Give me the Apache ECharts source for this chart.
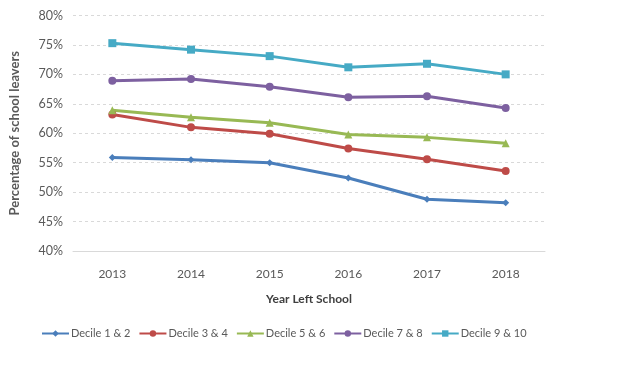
<!DOCTYPE html>
<html><head><meta charset="utf-8">
<script src="https://cdn.jsdelivr.net/npm/echarts@6/dist/echarts.min.js"></script>
<style>html,body{margin:0;padding:0;background:#fff}#c{width:625px;height:371px}</style>
</head><body><div id="c"></div>
<script>
const years = ['2013','2014','2015','2016','2017','2018'];
const decile12 = [55.9, 55.5, 55.0, 52.4, 48.8, 48.2];
const decile34 = [63.2, 61.0, 59.9, 57.4, 55.6, 53.6];
const decile56 = [63.9, 62.7, 61.8, 59.8, 59.3, 58.3];
const decile78 = [68.9, 69.2, 67.9, 66.1, 66.3, 64.3];
const decile910 = [75.3, 74.2, 73.1, 71.2, 71.8, 70.0];
const seriesNames = ['Decile 1 & 2','Decile 3 & 4','Decile 5 & 6','Decile 7 & 8','Decile 9 & 10'];
const colors = ['#4a7ebb','#be4b48','#98b954','#7d60a0','#46aac5'];
const symbols = ['diamond','circle','triangle','circle','rect'];
const symSizes = [7,8,8,8,8];
const dataSets = [decile12, decile34, decile56, decile78, decile910];
const FONT = 'Lato, "Liberation Sans", sans-serif';
const chart = echarts.init(document.getElementById('c'), null, {renderer:'canvas'});
chart.setOption({
  animation:false,
  textStyle:{fontFamily:FONT},
  grid:{left:71, right:80, top:15.5, bottom:120},
  legend:{
    data:seriesNames, left:36, top:323, itemWidth:27, itemHeight:8, itemGap:8,
    textStyle:{color:'#595959', fontSize:11, fontFamily:FONT, padding:[0,0,0,-3]}
  },
  xAxis:{
    type:'category', data:years, boundaryGap:true,
    name:'Year Left School', nameLocation:'middle', nameGap:42,
    nameTextStyle:{color:'#404040', fontWeight:'bold', fontSize:12, fontFamily:FONT},
    axisLine:{lineStyle:{color:'#d9d9d9'}}, axisTick:{show:false},
    axisLabel:{color:'#595959', fontSize:12, margin:17, fontFamily:FONT}
  },
  yAxis:{
    type:'value', min:40, max:80, interval:5,
    name:'Percentage of school leavers', nameLocation:'middle', nameGap:52,
    nameTextStyle:{color:'#595959', fontWeight:'bold', fontSize:13, fontFamily:FONT},
    axisLine:{show:false}, axisTick:{show:false},
    axisLabel:{color:'#595959', fontSize:12.5, margin:10, formatter:v=>v+'%', fontFamily:FONT},
    splitLine:{lineStyle:{color:'#d9d9d9', type:[3,3]}}
  },
  series: dataSets.map((d,i)=>({
    name:seriesNames[i], type:'line', data:d,
    symbol:symbols[i], symbolSize:symSizes[i], showSymbol:true,
    lineStyle:{color:colors[i], width:3},
    itemStyle:{color:colors[i]}
  }))
});
</script></body></html>
